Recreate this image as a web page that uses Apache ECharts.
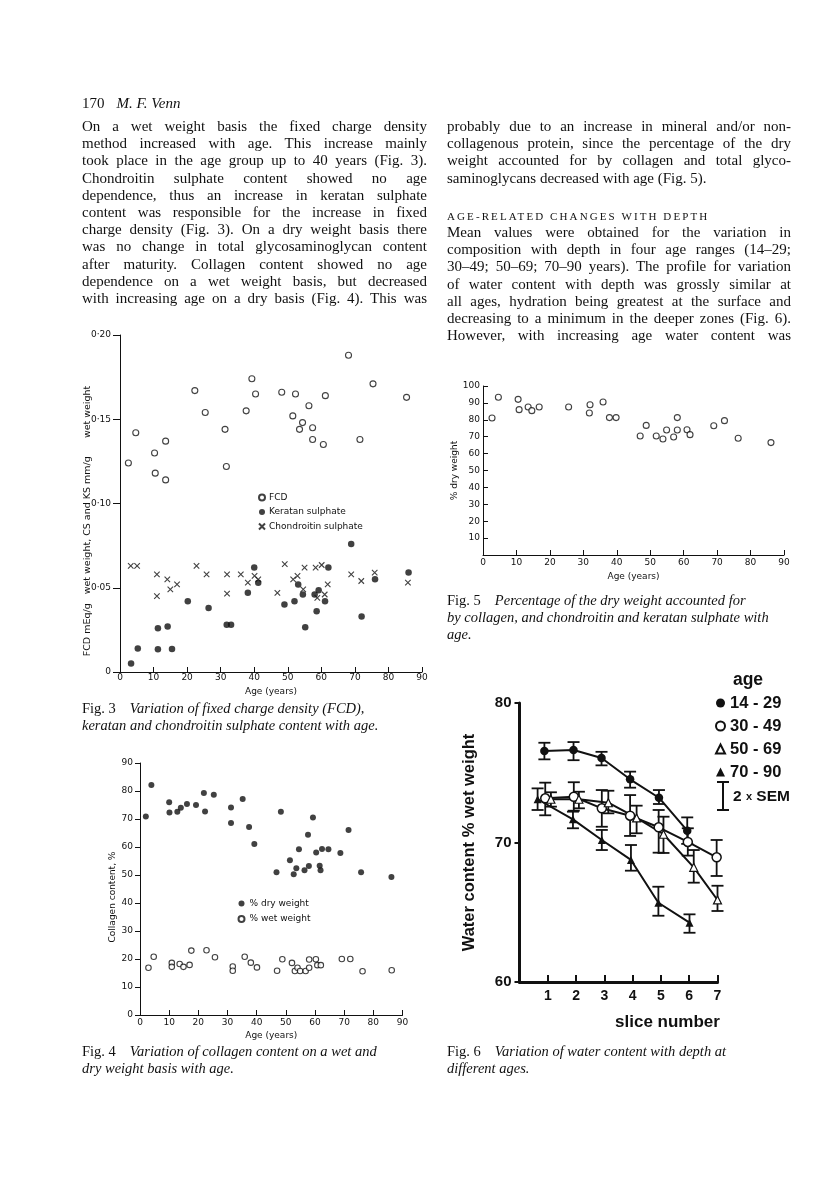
<!DOCTYPE html>
<html><head><meta charset="utf-8">
<script src="https://cdn.jsdelivr.net/npm/echarts@6/dist/echarts.min.js"></script>
<style>
html,body{margin:0;padding:0;background:#fff;}
#page{position:relative;width:816px;height:1178px;overflow:hidden;background:#fff;}
#chart{position:absolute;left:0;top:0;width:816px;height:1178px;z-index:1;}
.t{position:absolute;z-index:2;font-family:"Liberation Serif","Times New Roman",serif;color:#111;font-size:15px;line-height:17.2px;}
.t div{text-align:justify;text-align-last:justify;}
.t div.l{text-align:left;text-align-last:left;}
.cap{position:absolute;z-index:2;font-family:"Liberation Serif","Times New Roman",serif;color:#111;font-size:14.5px;line-height:17px;white-space:nowrap;}
.cap i{font-style:italic;}
.cap .g{display:inline-block;width:14px;}
.head{position:absolute;z-index:2;left:82px;top:95px;font-family:"Liberation Serif",serif;font-size:15px;color:#111;}
.sc{position:absolute;z-index:2;left:447px;top:208px;font-family:"Liberation Serif",serif;font-size:11px;line-height:17.2px;letter-spacing:2.1px;color:#111;}
</style></head>
<body><div id="page">
<div id="chart"></div>
<div class="head">170<span style="display:inline-block;width:12px"></span><i>M. F. Venn</i></div>
<div class="t" style="left:82px;top:118px;width:345px;">
<div>On a wet weight basis the fixed charge density</div>
<div>method increased with age. This increase mainly</div>
<div>took place in the age group up to 40 years (Fig. 3).</div>
<div>Chondroitin sulphate content showed no age</div>
<div>dependence, thus an increase in keratan sulphate</div>
<div>content was responsible for the increase in fixed</div>
<div>charge density (Fig. 3). On a dry weight basis there</div>
<div>was no change in total glycosaminoglycan content</div>
<div>after maturity. Collagen content showed no age</div>
<div>dependence on a wet weight basis, but decreased</div>
<div>with increasing age on a dry basis (Fig. 4). This was</div>
</div>
<div class="t" style="left:447px;top:118px;width:344px;">
<div>probably due to an increase in mineral and/or non-</div>
<div>collagenous protein, since the percentage of the dry</div>
<div>weight accounted for by collagen and total glyco-</div>
<div class="l">saminoglycans decreased with age (Fig. 5).</div>
</div>
<div class="sc">AGE-RELATED CHANGES WITH DEPTH</div>
<div class="t" style="left:447px;top:224px;width:344px;">
<div>Mean values were obtained for the variation in</div>
<div>composition with depth in four age ranges (14–29;</div>
<div>30–49; 50–69; 70–90 years). The profile for variation</div>
<div>of water content with depth was grossly similar at</div>
<div>all ages, hydration being greatest at the surface and</div>
<div>decreasing to a minimum in the deeper zones (Fig. 6).</div>
<div>However, with increasing age water content was</div>
</div>
<div class="cap" style="left:82px;top:700px;">Fig. 3<span class="g"></span><i>Variation of fixed charge density (FCD),</i><br><i>keratan and chondroitin sulphate content with age.</i></div>
<div class="cap" style="left:82px;top:1043px;">Fig. 4<span class="g"></span><i>Variation of collagen content on a wet and</i><br><i>dry weight basis with age.</i></div>
<div class="cap" style="left:447px;top:592px;">Fig. 5<span class="g"></span><i>Percentage of the dry weight accounted for</i><br><i>by collagen, and chondroitin and keratan sulphate with</i><br><i>age.</i></div>
<div class="cap" style="left:447px;top:1043px;">Fig. 6<span class="g"></span><i>Variation of water content with depth at</i><br><i>different ages.</i></div>
</div>
<script>
// ---------- Fig. 3 data ----------
const fcdAge = [2.5,4.7,10.3,10.5,13.6,13.6,22.3,25.4,31.3,31.7,37.6,39.3,40.4,48.2,51.5,52.3,54.4,53.5,56.3,57.4,57.4,61.2,60.6,68.1,71.5,75.4,85.4];
const fcdVal = [0.124,0.142,0.130,0.118,0.137,0.114,0.167,0.154,0.144,0.122,0.155,0.174,0.165,0.166,0.152,0.165,0.148,0.144,0.158,0.145,0.138,0.164,0.135,0.188,0.138,0.171,0.163];
const ksAge = [3.3,5.3,11.3,11.3,14.2,15.5,20.2,26.4,31.8,33.1,38.1,40.0,41.2,49.0,52.0,53.1,54.5,55.2,58.0,59.2,58.6,61.1,62.1,68.9,72.0,76.0,86.0];
const ksVal = [0.005,0.014,0.026,0.0135,0.027,0.0137,0.042,0.038,0.028,0.028,0.047,0.062,0.053,0.040,0.042,0.052,0.046,0.0265,0.046,0.0485,0.036,0.042,0.062,0.076,0.033,0.055,0.059];
const csAge = [3.2,5.1,11.0,11.0,14.1,15.0,17.0,22.8,25.8,31.9,31.9,36.0,38.1,40.1,41.2,46.9,49.1,51.6,52.9,54.6,55.0,58.3,60.1,58.8,61.0,61.9,68.9,71.9,75.9,85.8];
const csVal = [0.063,0.063,0.058,0.045,0.055,0.049,0.052,0.063,0.058,0.058,0.0465,0.058,0.053,0.057,0.055,0.047,0.064,0.055,0.057,0.049,0.062,0.062,0.0635,0.044,0.046,0.052,0.058,0.054,0.059,0.053];
// ---------- Fig. 4 data ----------
const dryAge = [2.0,3.9,10.0,10.1,12.8,14.0,16.1,19.2,21.9,22.3,25.3,31.2,31.2,35.2,37.4,39.2,46.8,48.3,51.4,52.7,53.6,54.5,56.4,57.6,57.9,59.3,60.4,61.6,61.9,62.4,64.6,68.7,71.5,75.8,86.2];
const dryVal = [70.9,82.1,76.0,72.3,72.6,74.0,75.4,75.0,79.3,72.7,78.7,74.1,68.6,77.1,67.1,61.1,51.0,72.6,55.3,50.3,52.4,59.2,51.7,64.4,53.2,70.5,58.0,53.3,51.7,59.3,59.2,57.9,66.1,51.0,49.3];
const wetAge = [2.9,4.7,10.9,10.9,13.6,14.9,17.0,17.6,22.8,25.7,31.8,31.8,35.9,38.0,40.1,47.0,48.8,52.1,53.1,54.0,54.9,56.8,58.0,58.0,60.3,60.8,62.0,69.2,72.1,76.3,86.3];
const wetVal = [16.9,20.8,18.6,17.2,18.2,17.2,17.9,23.0,23.1,20.6,17.3,15.8,20.8,18.7,17.0,15.8,19.9,18.6,15.7,16.9,15.7,15.7,16.9,19.8,19.9,17.8,17.8,20.0,20.0,15.6,16.0];
// ---------- Fig. 5 data ----------
const f5Age = [2.7,4.6,10.5,10.8,13.5,14.6,16.8,25.6,32.0,31.8,35.9,37.8,39.8,47.0,48.8,51.8,53.8,54.9,57.0,58.1,58.1,61.0,61.9,69.0,72.2,76.3,86.1];
const f5Val = [81.1,93.3,92.1,86.0,87.6,85.4,87.6,87.6,88.9,84.0,90.5,81.3,81.3,70.4,76.7,70.4,68.6,74.0,69.8,81.3,74.0,74.1,71.2,76.5,79.5,69.1,66.5];
// ---------- Fig. 6 data ----------
const ageGroups = ['14 - 29','30 - 49','50 - 69','70 - 90'];
const g1Slice = [0.88,1.91,2.90,3.91,4.93,5.93];
const g1Mean  = [76.56,76.63,76.06,74.53,73.21,70.85];
const g1Lo    = [75.96,75.90,75.53,73.93,72.76,69.90];
const g1Hi    = [77.15,77.20,76.50,75.08,73.76,71.80];
const g2Slice = [0.91,1.92,2.91,3.91,4.92,5.95,6.97];
const g2Mean  = [73.17,73.28,72.45,71.92,71.09,70.04,68.94];
const g2Lo    = [71.95,72.28,71.13,70.47,69.27,69.06,67.60];
const g2Hi    = [74.29,74.32,73.76,73.40,72.33,71.02,70.18];
const g3Slice = [1.11,2.10,3.14,4.14,5.09,6.16,7.00];
const g3Mean  = [73.10,73.10,72.85,71.76,70.59,68.22,65.88];
const g3Lo    = [72.57,72.45,72.09,70.66,69.25,67.12,65.09];
const g3Hi    = [73.60,73.64,73.71,72.64,71.85,69.46,66.90];
const g4Slice = [0.64,1.89,2.91,3.94,4.91,6.01];
const g4Mean  = [73.10,71.66,70.18,68.75,65.68,64.25];
const g4Lo    = [72.33,71.02,69.46,67.98,64.75,63.53];
const g4Hi    = [73.88,72.21,70.90,69.82,66.83,64.85];

const INK = '#111';
const SANS = '"DejaVu Sans", sans-serif';
const BOLD = '"Liberation Sans", Arial, sans-serif';
const pairs = (xs, ys) => xs.map((x, i) => [x, ys[i]]);
const errs = (xs, lo, hi) => xs.map((x, i) => [x, lo[i], hi[i]]);

function ageAxis(idx, margin, gap) {
  return {
    type: 'value', gridIndex: idx, min: 0, max: 90, interval: 10,
    name: 'Age (years)', nameLocation: 'middle', nameGap: gap,
    nameTextStyle: { fontFamily: SANS, fontSize: 9, color: INK },
    axisLine: { onZero: false, lineStyle: { color: INK, width: 1 } },
    axisTick: { inside: true, length: 5, lineStyle: { color: INK, width: 1 } },
    axisLabel: { margin: margin, fontFamily: SANS, fontSize: 9, color: INK },
    splitLine: { show: false }
  };
}
function smallY(idx, min, max, interval, opts) {
  return Object.assign({
    type: 'value', gridIndex: idx, min: min, max: max, interval: interval,
    axisLine: { show: true, onZero: false, lineStyle: { color: INK, width: 1 } },
    axisTick: { show: true, inside: false, length: 5, lineStyle: { color: INK, width: 1 } },
    axisLabel: { margin: 7, fontFamily: SANS, fontSize: 9, color: INK },
    splitLine: { show: false }
  }, opts || {});
}

function renderErr(params, api) {
  const x = api.value(0), lo = api.value(1), hi = api.value(2);
  const a = api.coord([x, hi]), b = api.coord([x, lo]);
  const w = 6;
  const st = { stroke: INK, lineWidth: 1.8 };
  return { type: 'group', children: [
    { type: 'line', shape: { x1: a[0], y1: a[1], x2: b[0], y2: b[1] }, style: st },
    { type: 'line', shape: { x1: a[0] - w, y1: a[1], x2: a[0] + w, y2: a[1] }, style: st },
    { type: 'line', shape: { x1: b[0] - w, y1: b[1], x2: b[0] + w, y2: b[1] }, style: st }
  ]};
}

const cross = 'path://M0,0L10,10M10,0L0,10';
const openStyle = { color: '#fff', borderColor: INK, borderWidth: 1.1 };
const fillStyle = { color: INK };
const errData = [].concat(errs(g1Slice, g1Lo, g1Hi), errs(g2Slice, g2Lo, g2Hi), errs(g3Slice, g3Lo, g3Hi), errs(g4Slice, g4Lo, g4Hi));

const option = {
  animation: false,
  backgroundColor: 'transparent',
  textStyle: { fontFamily: SANS, color: INK },
  grid: [
    { left: 120, top: 335, width: 302, height: 337 },
    { left: 140, top: 763, width: 262.5, height: 252 },
    { left: 483, top: 386, width: 301, height: 169 },
    { left: 519.5, top: 703, width: 198, height: 279 }
  ],
  xAxis: [
    ageAxis(0, 1, 15),
    ageAxis(1, 3, 16),
    ageAxis(2, 3, 17),
    {
      type: 'value', gridIndex: 3, min: 0, max: 7, interval: 1,
      name: 'slice number', nameLocation: 'middle', nameGap: 32,
      nameTextStyle: { fontFamily: BOLD, fontWeight: 'bold', fontSize: 17, color: INK, padding: [0, 0, 0, 98] },
      axisLine: { onZero: false, lineStyle: { color: INK, width: 3 } },
      axisTick: { inside: true, length: 7, lineStyle: { color: INK, width: 2 } },
      axisLabel: { margin: 7, showMinLabel: false, fontFamily: BOLD, fontWeight: 'bold', fontSize: 14, color: INK },
      splitLine: { show: false }
    }
  ],
  yAxis: [
    smallY(0, 0, 0.2, 0.05, {
      axisTick: { show: true, inside: false, length: 7, lineStyle: { color: INK, width: 1 } },
      axisLabel: { margin: 9, fontFamily: SANS, fontSize: 9, color: INK,
        formatter: v => v === 0 ? '0' : v.toFixed(2).replace('.', '·') }
    }),
    smallY(1, 0, 90, 10, {
      name: 'Collagen content, %', nameLocation: 'middle', nameGap: 21,
      nameTextStyle: { fontFamily: SANS, fontSize: 9, color: INK, padding: [0, 16, 0, 0] }
    }),
    smallY(2, 0, 100, 10, {
      name: '% dry weight', nameLocation: 'middle', nameGap: 19,
      nameTextStyle: { fontFamily: SANS, fontSize: 9, color: INK },
      axisTick: { show: true, inside: true, length: 5, lineStyle: { color: INK, width: 1 } },
      axisLabel: { margin: 3, showMinLabel: false, fontFamily: SANS, fontSize: 9, color: INK }
    }),
    {
      type: 'value', gridIndex: 3, min: 60, max: 80, interval: 10,
      name: 'Water content % wet weight', nameLocation: 'middle', nameGap: 42,
      nameTextStyle: { fontFamily: BOLD, fontWeight: 'bold', fontSize: 16.5, color: INK },
      axisLine: { show: true, onZero: false, lineStyle: { color: INK, width: 3 } },
      axisTick: { show: true, inside: false, length: 5, lineStyle: { color: INK, width: 2 } },
      axisLabel: { margin: 8, fontFamily: BOLD, fontWeight: 'bold', fontSize: 15, color: INK },
      splitLine: { show: false }
    }
  ],
  legend: [
    { selectedMode: false, orient: 'vertical', left: 258, top: 493, padding: 0,
      itemWidth: 6, itemHeight: 6, itemGap: 5.5,
      textStyle: { fontFamily: SANS, fontSize: 9, color: INK, padding: [0, 0, 0, -1] },
      data: ['FCD', 'Keratan sulphate', 'Chondroitin sulphate'] },
    { selectedMode: false, orient: 'vertical', left: 237.5, top: 899, padding: 0,
      itemWidth: 6, itemHeight: 6, itemGap: 6.5,
      textStyle: { fontFamily: SANS, fontSize: 9, color: INK },
      data: ['% dry weight', '% wet weight'] },
    { selectedMode: false, orient: 'vertical', left: 715, top: 694, padding: 0,
      itemWidth: 9, itemHeight: 9, itemGap: 5,
      textStyle: { fontFamily: BOLD, fontWeight: 'bold', fontSize: 16.5, color: INK, lineHeight: 18 },
      data: [
        { name: ageGroups[0], icon: 'circle' },
        { name: ageGroups[1], icon: 'circle' },
        { name: ageGroups[2], icon: 'triangle' },
        { name: ageGroups[3], icon: 'triangle' }
      ] }
  ],
  graphic: [
    { type: 'text', x: 88, y: 521, rotation: Math.PI / 2,
      style: { text: 'FCD mEq/g\u00a0\u00a0\u00a0wet weight, CS and KS mm/g\u00a0\u00a0\u00a0\u00a0\u00a0\u00a0wet weight',
        fontFamily: SANS, fontSize: 9.5, fill: INK, align: 'center', verticalAlign: 'middle' } },
    { type: 'text', x: 748, y: 680,
      style: { text: 'age', fontFamily: BOLD, fontWeight: 'bold', fontSize: 17.5, fill: INK, align: 'center', verticalAlign: 'middle' } },
    { type: 'group', x: 723, y: 782, children: [
      { type: 'line', shape: { x1: 0, y1: 0, x2: 0, y2: 28 }, style: { stroke: INK, lineWidth: 2 } },
      { type: 'line', shape: { x1: -6, y1: 0, x2: 6, y2: 0 }, style: { stroke: INK, lineWidth: 2 } },
      { type: 'line', shape: { x1: -6, y1: 28, x2: 6, y2: 28 }, style: { stroke: INK, lineWidth: 2 } }
    ] },
    { type: 'text', x: 733, y: 797,
      style: { text: '2 {s|x} SEM', fontFamily: BOLD, fontWeight: 'bold', fontSize: 15.5, fill: INK, align: 'left', verticalAlign: 'middle',
        rich: { s: { fontFamily: BOLD, fontWeight: 'bold', fontSize: 11, fill: INK } } } }
  ],
  series: [
    { name: 'FCD', type: 'scatter', xAxisIndex: 0, yAxisIndex: 0, symbol: 'circle', symbolSize: 6,
      itemStyle: openStyle, data: pairs(fcdAge, fcdVal) },
    { name: 'Keratan sulphate', type: 'scatter', xAxisIndex: 0, yAxisIndex: 0, symbol: 'circle', symbolSize: 6.5,
      itemStyle: fillStyle, data: pairs(ksAge, ksVal) },
    { name: 'Chondroitin sulphate', type: 'scatter', xAxisIndex: 0, yAxisIndex: 0, symbol: cross, symbolSize: 5.5,
      itemStyle: { color: 'transparent', borderColor: INK, borderWidth: 1.1 }, data: pairs(csAge, csVal) },
    { name: '% dry weight', type: 'scatter', xAxisIndex: 1, yAxisIndex: 1, symbol: 'circle', symbolSize: 6,
      itemStyle: fillStyle, data: pairs(dryAge, dryVal) },
    { name: '% wet weight', type: 'scatter', xAxisIndex: 1, yAxisIndex: 1, symbol: 'circle', symbolSize: 5.5,
      itemStyle: openStyle, data: pairs(wetAge, wetVal) },
    { name: 'Fig5', type: 'scatter', xAxisIndex: 2, yAxisIndex: 2, symbol: 'circle', symbolSize: 6,
      itemStyle: openStyle, data: pairs(f5Age, f5Val) },
    { name: '2 x SEM', type: 'custom', xAxisIndex: 3, yAxisIndex: 3, renderItem: renderErr,
      encode: { x: 0, y: [1, 2] }, z: 1, data: errData },
    { name: ageGroups[0], type: 'line', xAxisIndex: 3, yAxisIndex: 3, symbol: 'circle', symbolSize: 8.5, z: 3,
      lineStyle: { color: INK, width: 2 }, itemStyle: { color: INK }, data: pairs(g1Slice, g1Mean) },
    { name: ageGroups[1], type: 'line', xAxisIndex: 3, yAxisIndex: 3, symbol: 'circle', symbolSize: 9, z: 3,
      lineStyle: { color: INK, width: 2 }, itemStyle: { color: '#fff', borderColor: INK, borderWidth: 1.5 }, data: pairs(g2Slice, g2Mean) },
    { name: ageGroups[2], type: 'line', xAxisIndex: 3, yAxisIndex: 3, symbol: 'triangle', symbolSize: 8, z: 3,
      lineStyle: { color: INK, width: 2 }, itemStyle: { color: '#fff', borderColor: INK, borderWidth: 1.2 }, data: pairs(g3Slice, g3Mean) },
    { name: ageGroups[3], type: 'line', xAxisIndex: 3, yAxisIndex: 3, symbol: 'triangle', symbolSize: 8, z: 3,
      lineStyle: { color: INK, width: 2 }, itemStyle: { color: INK }, data: pairs(g4Slice, g4Mean) }
  ]
};
const chart = echarts.init(document.getElementById('chart'), null, { renderer: 'canvas' });
chart.setOption(option);
</script>
</body></html>
